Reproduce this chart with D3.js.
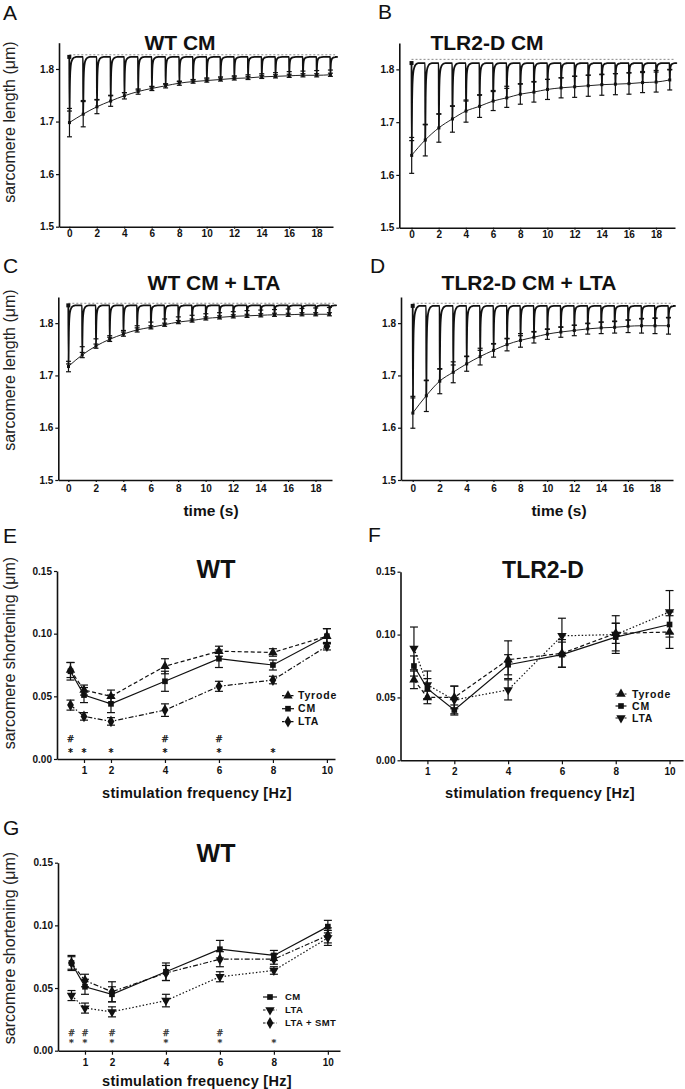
<!DOCTYPE html>
<html><head><meta charset="utf-8">
<script src="https://cdn.jsdelivr.net/npm/d3@7"></script>
<style>body{margin:0;background:#fff}svg{display:block}</style>
</head><body><svg id="c" width="685" height="1089"></svg>
<script>
// ---------------- DATA ----------------
const beatTimes = [0,1,2,3,4,5,6,7,8,9,10,11,12,13,14,15,16,17,18,19];
const timeTicks = [0,2,4,6,8,10,12,14,16,18];
const lengthTicks = [1.5,1.6,1.7,1.8];
// shape of one contraction: time after stimulus (s) and fraction of the beat's shortening
const dipTau  = [0, 0.012, 0.025, 0.04, 0.06, 0.09, 0.13, 0.19, 0.27, 0.38, 0.5];
const dipFrac = [0, 1, 0.72, 0.45, 0.28, 0.17, 0.10, 0.055, 0.025, 0.008, 0];
const traceEnd = 19.35;

// A: WT CM
const wtCmBase = 1.823, wtCmRef = 1.827;
const wtCmMin = [1.698,1.714,1.728,1.739,1.749,1.757,1.763,1.768,1.773,1.776,1.778,1.780,1.782,1.783,1.785,1.786,1.787,1.788,1.788,1.789];
const wtCmErr = [0.027,0.024,0.013,0.010,0.006,0.005,0.004,0.004,0.004,0.003,0.003,0.003,0.003,0.003,0.003,0.003,0.003,0.003,0.003,0.003];
const wtCmMid = [1.720,1.740,1.742,1.750,1.755,1.760,1.766,1.771,1.776,1.780,1.783,1.785,1.787,1.789,1.791,1.793,1.795,1.796,1.797,1.798];
// B: TLR2-D CM
const tlrCmBase = 1.812, tlrCmRef = 1.819;
const tlrCmMin = [1.637,1.666,1.689,1.706,1.721,1.730,1.740,1.746,1.753,1.757,1.762,1.765,1.767,1.769,1.771,1.772,1.773,1.775,1.776,1.780];
const tlrCmErr = [0.034,0.030,0.027,0.025,0.021,0.021,0.018,0.018,0.019,0.019,0.019,0.019,0.020,0.020,0.020,0.020,0.020,0.019,0.019,0.019];
const tlrCmMid = [1.665,1.695,1.715,1.730,1.740,1.752,1.760,1.768,1.773,1.777,1.781,1.784,1.787,1.789,1.790,1.792,1.794,1.796,1.798,1.800];
// C: WT CM + LTA
const wtLtaBase = 1.834, wtLtaRef = 1.838;
const wtLtaMin = [1.717,1.739,1.756,1.769,1.779,1.787,1.792,1.797,1.802,1.805,1.809,1.811,1.813,1.814,1.815,1.816,1.816,1.817,1.817,1.817];
const wtLtaErr = [0.010,0.005,0.004,0.004,0.004,0.004,0.003,0.003,0.003,0.003,0.003,0.003,0.003,0.003,0.003,0.003,0.003,0.003,0.003,0.003];
const wtLtaMid = [1.722,1.755,1.770,1.776,1.786,1.795,1.802,1.808,1.812,1.815,1.818,1.820,1.822,1.824,1.825,1.826,1.827,1.828,1.829,1.830];
// D: TLR2-D CM + LTA
const tlrLtaBase = 1.833, tlrLtaRef = 1.838;
const tlrLtaMin = [1.628,1.661,1.689,1.706,1.722,1.736,1.748,1.759,1.767,1.773,1.779,1.783,1.786,1.789,1.791,1.792,1.794,1.795,1.795,1.795];
const tlrLtaErr = [0.029,0.030,0.024,0.020,0.014,0.016,0.013,0.012,0.013,0.011,0.010,0.010,0.010,0.010,0.011,0.011,0.012,0.014,0.015,0.016];
const tlrLtaMid = [1.660,1.690,1.712,1.720,1.737,1.748,1.760,1.770,1.776,1.783,1.788,1.792,1.796,1.800,1.802,1.804,1.806,1.808,1.809,1.810];

// E/F/G: shortening vs frequency
const freqs = [0.5,1,2,4,6,8,10];
const freqTicks = [1,2,4,6,8,10];
const shortTicks = [0,0.05,0.10,0.15];
// E (WT)
const eTyrode = [0.071,0.055,0.050,0.074,0.086,0.085,0.098];
const eTyrodeErr = [0.006,0.004,0.005,0.006,0.004,0.003,0.006];
const eCM = [0.070,0.051,0.044,0.062,0.080,0.075,0.098];
const eCMErr = [0.007,0.006,0.007,0.008,0.007,0.004,0.006];
const eLTA = [0.043,0.034,0.030,0.039,0.058,0.063,0.090];
const eLTAErr = [0.004,0.003,0.003,0.005,0.004,0.003,0.003];
const eHash = [0.5,4,6];
const eStar = [0.5,1,2,4,6,8];
// F (TLR2-D)
const fTyrode = [0.064,0.050,0.050,0.080,0.085,0.101,0.102];
const fTyrodeErr = [0.007,0.005,0.009,0.015,0.011,0.008,0.013];
const fCM = [0.075,0.057,0.040,0.076,0.084,0.098,0.108];
const fCMErr = [0.008,0.008,0.004,0.008,0.010,0.011,0.010];
const fLTA = [0.089,0.060,0.048,0.056,0.099,0.100,0.118];
const fLTAErr = [0.017,0.011,0.011,0.008,0.014,0.015,0.017];
// G (WT)
const gCM = [0.070,0.051,0.045,0.063,0.081,0.076,0.099];
const gCMErr = [0.006,0.006,0.006,0.007,0.007,0.004,0.005];
const gLTA = [0.044,0.034,0.031,0.040,0.059,0.064,0.090];
const gLTAErr = [0.004,0.004,0.004,0.005,0.004,0.003,0.006];
const gSMT = [0.070,0.056,0.047,0.062,0.073,0.073,0.092];
const gSMTErr = [0.005,0.005,0.008,0.006,0.006,0.004,0.006];
const gHash = [0.5,1,2,4,6];
const gStar = [0.5,1,2,4,6,8];

// ---------------- DRAWING ----------------
const FONT = '"Liberation Sans", Arial, Helvetica, sans-serif';
const svg = d3.select('#c');

function txt(x, y, s, size, weight, anchor, extra) {
  const t = svg.append('text').attr('x', x).attr('y', y).text(s)
    .attr('font-family', FONT).attr('font-size', size)
    .attr('font-weight', weight || 'normal').attr('text-anchor', anchor || 'start').attr('fill', '#111');
  if (extra) extra(t);
  return t;
}
function ylabel(x, y, s) {
  svg.append('text').attr('transform', `translate(${x},${y}) rotate(-90)`).text(s)
    .attr('font-family', FONT).attr('font-size', 16).attr('text-anchor', 'middle').attr('fill', '#222');
}
function styleAxis(g) {
  g.attr('font-family', FONT).attr('font-size', 10).attr('font-weight', 'bold');
  g.select('.domain').attr('stroke-width', 1.6).attr('stroke', '#111');
  g.selectAll('.tick line').attr('stroke-width', 1.2).attr('stroke', '#111');
  g.selectAll('.tick text').attr('fill', '#111');
}

function tracePanel(L, d) {
  const x = d3.scaleLinear().domain(L.xd).range(L.xr);
  const y = d3.scaleLinear().domain([1.5, 1.85]).range(L.yr);
  const g = svg.append('g');
  g.append('line').attr('x1', x(0)).attr('x2', x(traceEnd)).attr('y1', y(d.ref)).attr('y2', y(d.ref))
    .attr('stroke', '#8a8a8a').attr('stroke-width', 1).attr('stroke-dasharray', '2,2');
  g.append('path').attr('d', d3.line().x((t) => x(t)).y((t, i) => y(d.min[i])).curve(d3.curveMonotoneX)(beatTimes))
    .attr('fill', 'none').attr('stroke', '#222').attr('stroke-width', 1);
  const pts = [];
  beatTimes.forEach((t, i) => {
    const depth = d.base - d.min[i];
    dipTau.forEach((tau, k) => pts.push([t + tau, d.base - depth * dipFrac[k]]));
  });
  pts.push([traceEnd, d.base]);
  g.append('path').attr('d', d3.line().x(p => x(p[0])).y(p => y(p[1])).curve(d3.curveMonotoneX)(pts))
    .attr('fill', 'none').attr('stroke', '#111').attr('stroke-width', 1.8).attr('stroke-linejoin', 'round');
  beatTimes.forEach((t, i) => {
    const cx = x(t + 0.012);
    g.append('line').attr('x1', cx).attr('x2', cx).attr('y1', y(d.min[i] - d.err[i])).attr('y2', y(d.min[i] + d.err[i]))
      .attr('stroke', '#111').attr('stroke-width', 1.2);
    [d.min[i] - d.err[i], d.min[i] + d.err[i], d.mid[i]].forEach(v => {
      g.append('line').attr('x1', cx - 2.5).attr('x2', cx + 2.5).attr('y1', y(v)).attr('y2', y(v))
        .attr('stroke', '#111').attr('stroke-width', 1.2);
    });
    g.append('rect').attr('x', cx - 1.5).attr('y', y(d.min[i]) - 1.5).attr('width', 3).attr('height', 3).attr('fill', '#111');
  });
  g.append('rect').attr('x', x(0) - 2).attr('y', y(d.base) - 2).attr('width', 4).attr('height', 4).attr('fill', '#111');
  const ax = svg.append('g').attr('transform', `translate(${L.xr[0]},0)`)
    .call(d3.axisLeft(y).tickValues(lengthTicks).tickSize(3).tickPadding(2).tickSizeOuter(0).tickFormat(d3.format('.1f')));
  styleAxis(ax);
  const bx = svg.append('g').attr('transform', `translate(0,${L.yr[0]})`)
    .call(d3.axisBottom(x).tickValues(timeTicks).tickSize(2).tickPadding(L.pad).tickSizeOuter(0));
  styleAxis(bx);
}

tracePanel({xd: [-0.75, 19.2], xr: [59, 333], yr: [226.7, 42.7], pad: 1},
  {base: wtCmBase, ref: wtCmRef, min: wtCmMin, err: wtCmErr, mid: wtCmMid});
tracePanel({xd: [-0.9, 19.4], xr: [399.3, 675], yr: [227.7, 43], pad: 1},
  {base: tlrCmBase, ref: tlrCmRef, min: tlrCmMin, err: tlrCmErr, mid: tlrCmMid});
tracePanel({xd: [-0.73, 19.2], xr: [58.3, 332], yr: [480, 297], pad: 3},
  {base: wtLtaBase, ref: wtLtaRef, min: wtLtaMin, err: wtLtaErr, mid: wtLtaMid});
tracePanel({xd: [-0.87, 19.35], xr: [401, 673], yr: [480, 297], pad: 3},
  {base: tlrLtaBase, ref: tlrLtaRef, min: tlrLtaMin, err: tlrLtaErr, mid: tlrLtaMid});

function marker(g, type, cx, cy) {
  let s;
  if (type === 'tri' || type === 'down') s = d3.symbol().type(d3.symbolTriangle).size(38)();
  else if (type === 'sq') s = d3.symbol().type(d3.symbolSquare).size(32)();
  else s = d3.symbol().type(d3.symbolDiamond).size(40)();
  g.append('path').attr('d', s).attr('fill', '#111')
    .attr('transform', `translate(${cx},${cy})` + (type === 'down' ? ' rotate(180)' : ''));
}

function freqPanel(L, series, sig, legend) {
  const x = d3.scaleLinear().domain(L.xd).range(L.xr);
  const y = d3.scaleLinear().domain([0, 0.15]).range(L.yr);
  const g = svg.append('g');
  series.forEach(s => {
    g.append('path').attr('d', d3.line().x((f) => x(f)).y((f, i) => y(s.v[i]))(freqs))
      .attr('fill', 'none').attr('stroke', '#111').attr('stroke-width', 1.2)
      .attr('stroke-dasharray', s.dash || null);
  });
  series.forEach(s => {
    freqs.forEach((f, i) => {
      const cx = x(f), lo = y(s.v[i] - s.e[i]), hi = y(s.v[i] + s.e[i]);
      g.append('line').attr('x1', cx).attr('x2', cx).attr('y1', lo).attr('y2', hi).attr('stroke', '#111').attr('stroke-width', 1.2);
      [lo, hi].forEach(yy => g.append('line').attr('x1', cx - 4).attr('x2', cx + 4).attr('y1', yy).attr('y2', yy)
        .attr('stroke', '#111').attr('stroke-width', 1.2));
      marker(g, s.m, cx, y(s.v[i]));
    });
  });
  if (sig) {
    const st = t => t.attr('fill', sig.col).attr('stroke', sig.col).attr('stroke-width', sig.sw)
      .attr('font-family', '"DejaVu Sans", sans-serif');
    sig.hash.forEach(f => txt(x(f), y(sig.hy), '#', sig.fs, 'normal', 'middle', st));
    sig.star.forEach(f => txt(x(f), y(sig.sy), '*', sig.fs + 1, 'normal', 'middle', st));
  }
  legend.items.forEach((s, k) => {
    const yy = legend.y + k * legend.dy;
    g.append('line').attr('x1', legend.x - legend.half).attr('x2', legend.x + legend.half).attr('y1', yy).attr('y2', yy)
      .attr('stroke', '#111').attr('stroke-width', 1.2).attr('stroke-dasharray', s.dash ? '2.5,2' : null);
    marker(g, s.m, legend.x, yy);
    txt(legend.tx, yy + legend.fs * 0.36, s.name, legend.fs, 'bold', 'start', t => t.attr('letter-spacing', legend.ls));
  });
  const ax = svg.append('g').attr('transform', `translate(${L.xr[0]},0)`)
    .call(d3.axisLeft(y).tickValues(shortTicks).tickSize(3).tickPadding(2).tickSizeOuter(0).tickFormat(d3.format('.2f')));
  styleAxis(ax);
  const bx = svg.append('g').attr('transform', `translate(0,${L.yr[0]})`)
    .call(d3.axisBottom(x).tickValues(freqTicks).tickSize(4).tickPadding(4).tickSizeOuter(0));
  styleAxis(bx);
}

const sE = [
  {name: 'Tyrode', v: eTyrode, e: eTyrodeErr, m: 'tri', dash: '4,2.5'},
  {name: 'CM', v: eCM, e: eCMErr, m: 'sq', dash: null},
  {name: 'LTA', v: eLTA, e: eLTAErr, m: 'dia', dash: '5,2,1.5,2'}
];
freqPanel({xd: [0, 10.3], xr: [57, 335], yr: [759, 571]}, sE,
  {hash: eHash, star: eStar, hy: 0.0133, sy: 0.0025, fs: 9, col: '#000', sw: 0.25},
  {items: sE, x: 288, half: 6, tx: 298, y: 695.7, dy: 13, fs: 10.5, ls: 0.8});

const sF = [
  {name: 'Tyrode', v: fTyrode, e: fTyrodeErr, m: 'tri', dash: '4,2.5'},
  {name: 'CM', v: fCM, e: fCMErr, m: 'sq', dash: null},
  {name: 'LTA', v: fLTA, e: fLTAErr, m: 'down', dash: '1.5,2'}
];
freqPanel({xd: [0, 10.5], xr: [400.5, 683], yr: [760.3, 571.7]}, sF, null,
  {items: sF, x: 621, half: 5.5, tx: 632, y: 694, dy: 12, fs: 10.5, ls: 0.8});

const sG = [
  {name: 'CM', v: gCM, e: gCMErr, m: 'sq', dash: null},
  {name: 'LTA', v: gLTA, e: gLTAErr, m: 'down', dash: '1.5,2'},
  {name: 'LTA + SMT', v: gSMT, e: gSMTErr, m: 'dia', dash: '5,2,1.5,2'}
];
freqPanel({xd: [0, 10.45], xr: [58, 340], yr: [1050.7, 862.7]}, sG,
  {hash: gHash, star: gStar, hy: 0.0121, sy: 0.004, fs: 8.5, col: '#222', sw: 0.25},
  {items: sG, x: 270, half: 7, tx: 285, y: 997, dy: 13, fs: 9.5, ls: 0.4});

// ---------------- TEXT ----------------
[['A', 3, 20], ['B', 378, 19], ['C', 3, 273], ['D', 370, 273], ['E', 3, 543], ['F', 368, 542], ['G', 3, 835]]
  .forEach(p => txt(p[1], p[2], p[0], 21, 'normal', 'start'));
txt(180, 50, 'WT CM', 21, 'bold', 'middle');
txt(487, 50, 'TLR2-D CM', 21, 'bold', 'middle');
txt(214, 290, 'WT CM + LTA', 21, 'bold', 'middle');
txt(529, 290, 'TLR2-D CM + LTA', 21, 'bold', 'middle');
txt(216, 578, 'WT', 25, 'bold', 'middle');
txt(543, 578, 'TLR2-D', 23, 'bold', 'middle');
txt(216, 862, 'WT', 25, 'bold', 'middle');
txt(211, 516, 'time (s)', 15.5, 'bold', 'middle');
txt(559, 516, 'time (s)', 15.5, 'bold', 'middle');
txt(197, 797.5, 'stimulation frequency [Hz]', 14.5, 'bold', 'middle', t => t.attr('letter-spacing', 0.3));
txt(540, 798, 'stimulation frequency [Hz]', 14.5, 'bold', 'middle', t => t.attr('letter-spacing', 0.3));
txt(197, 1086, 'stimulation frequency [Hz]', 14.5, 'bold', 'middle', t => t.attr('letter-spacing', 0.3));
ylabel(15, 122, 'sarcomere length (μm)');
ylabel(15, 370, 'sarcomere length (μm)');
ylabel(15, 653, 'sarcomere shortening (μm)');
ylabel(15, 948, 'sarcomere shortening (μm)');
</script>
</body></html>
